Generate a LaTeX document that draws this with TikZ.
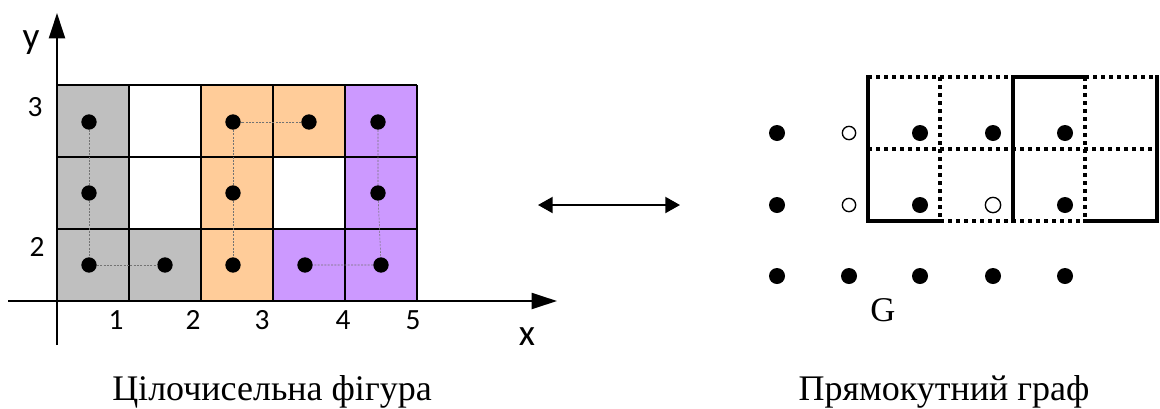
\documentclass[tikz,border=0pt]{standalone}
\usepackage{fontspec}
\setmainfont{Liberation Serif}
\newfontfamily\labfont{Carlito}
\usetikzlibrary{arrows.meta}
\definecolor{cgray}{HTML}{BFBFBF}
\definecolor{corange}{HTML}{FFCC99}
\definecolor{cpurple}{HTML}{CC99FF}
\tikzset{
  dot/.style={circle,fill=black,inner sep=0pt,minimum size=11.5pt},
  rdot/.style={circle,fill=black,inner sep=0pt,minimum size=12pt},
  hdot/.style={circle,draw=black,fill=white,line width=1pt,inner sep=0pt,minimum size=10pt},
  link/.style={draw=black!55,line width=0.4pt,dash pattern=on 1.5pt off 1pt},
  gridline/.style={line width=1.5pt},
  solidedge/.style={line width=2.6pt,line cap=rect},
  dotedge/.style={line width=2.4pt,dash pattern=on 3pt off 3pt},
  axis/.style={line width=1.5pt,-{Triangle[length=19pt,width=12pt]}},
  numlab/.style={font=\labfont\fontsize{22}{26}\selectfont,inner sep=0pt},
  axlab/.style={font=\labfont\fontsize{28}{32}\selectfont,inner sep=0pt,anchor=base},
  caption/.style={font=\fontsize{27}{32}\selectfont,inner sep=0pt,anchor=base}
}
\begin{document}
\begin{tikzpicture}[x=0.75pt,y=-0.75pt]
\useasboundingbox (0,0) rectangle (1160,408);
% ---- left: cells
\fill[cgray] (57,85) rectangle (129,301);
\fill[cgray] (129,229) rectangle (201,301);
\fill[corange] (201,85) rectangle (273,301);
\fill[corange] (273,85) rectangle (345,157);
\fill[cpurple] (345,85) rectangle (417,301);
\fill[cpurple] (273,229) rectangle (345,301);
\foreach \x in {57,129,201,273,345,417} \draw[gridline] (\x,85) -- (\x,301);
\foreach \y in {85,157,229} \draw[gridline] (57,\y) -- (417,\y);
% axes
\coordinate (xs) at (8,301);
\coordinate (xe) at (557,301);
\coordinate (ys) at (57,345);
\coordinate (ye) at (57,13);
\draw[axis] (xs) -- (xe);
\draw[axis] (ys) -- (ye);
\node[axlab] (ylab) at (31,48) {y};
\node[axlab] (xlab) at (527,345) {x};
\node[numlab] (n1) at (116,320) {1};
\node[numlab] (n2) at (193,320) {2};
\node[numlab] (n3) at (262,320) {3};
\node[numlab] (n4) at (343,320) {4};
\node[numlab] (n5) at (413,320) {5};
\node[numlab] (m3) at (35,107) {3};
\node[numlab] (m2) at (37,247) {2};
% dots
\node[dot] (g1) at (89,122) {};
\node[dot] (g2) at (89,193) {};
\node[dot] (g3) at (89,265) {};
\node[dot] (g4) at (165,265) {};
\node[dot] (o1) at (233,122) {};
\node[dot] (o2) at (233,193) {};
\node[dot] (o3) at (233,265) {};
\node[dot] (o4) at (309,122) {};
\node[dot] (p1) at (378,122) {};
\node[dot] (p2) at (378,193) {};
\node[dot] (p3) at (381,265) {};
\node[dot] (p4) at (305,265) {};
\draw[link] (g1) -- (g2) -- (g3) -- (g4);
\draw[link] (o4) -- (o1) -- (o2) -- (o3);
\draw[link] (p1) -- (p2) -- (p3) -- (p4);
% double arrow
\coordinate (la) at (538,205);
\coordinate (ra) at (680,205);
\draw[line width=1.5pt,{Triangle[length=11pt,width=12pt]}-{Triangle[length=11pt,width=12pt]}] (la) -- (ra);
% ---- right: grid
\draw[dotedge] (940,77) -- (940,221);
\draw[dotedge] (1085,77) -- (1085,221);
\draw[dotedge] (868,149) -- (1157,149);
\draw[dotedge] (868,77) -- (1013,77);
\draw[dotedge] (1085,77) -- (1157,77);
\draw[dotedge] (940,221) -- (1085,221);
\draw[solidedge] (940,221) -- (868,221) -- (868,77);
\draw[solidedge] (1013,221) -- (1013,77) -- (1085,77);
\draw[solidedge] (1085,221) -- (1157,221) -- (1157,77);
% right dots
\node[rdot] (a1) at (777,133) {};
\node[hdot] (a2) at (849,133) {};
\node[rdot] (a3) at (920,133) {};
\node[rdot] (a4) at (993,133) {};
\node[rdot] (a5) at (1065,133) {};
\node[rdot] (b1) at (777,205) {};
\node[hdot] (b2) at (849,205) {};
\node[rdot] (b3) at (920,205) {};
\node[hdot,minimum size=11.5pt] (b4) at (993,205) {};
\node[rdot] (b5) at (1065,205) {};
\node[rdot] (c1) at (777,276) {};
\node[rdot] (c2) at (849,276) {};
\node[rdot] (c3) at (920,276) {};
\node[rdot] (c4) at (993,276) {};
\node[rdot] (c5) at (1065,276) {};
\node[caption,font=\fontsize{26}{30}\selectfont] (G) at (883,321) {G};
% captions
\node[caption] (cap1) at (272,400) {Цілочисельна фігура};
\node[caption] (cap2) at (944,400) {Прямокутний граф};
\end{tikzpicture}
\end{document}
